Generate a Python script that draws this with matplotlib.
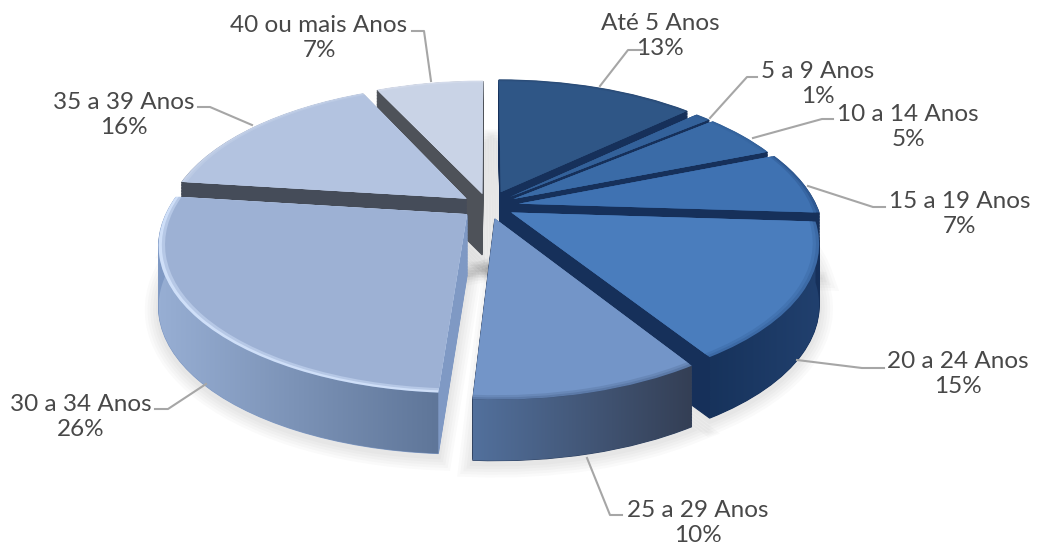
import numpy as np
import matplotlib
matplotlib.use("Agg")
import matplotlib.pyplot as plt
from matplotlib.colors import to_rgb
from matplotlib.patches import Polygon
from matplotlib.transforms import Transform

categories = ["Até 5 Anos", "5 a 9 Anos", "10 a 14 Anos", "15 a 19 Anos", "20 a 24 Anos",
              "25 a 29 Anos", "30 a 34 Anos", "35 a 39 Anos", "40 ou mais Anos"]
values = [13, 1, 5, 7, 15, 10, 26, 16, 7]

top_colors = ["#2f5686", "#33619a", "#3a6ba7", "#3f72b2", "#4a7dbd",
              "#7395c8", "#9db1d4", "#b3c3e0", "#c9d3e6"]
rim_colors = ["#2a4c78", "#2f5a90", "#33629c", "#2f5a94", "#3c6aa6",
              "#5c7aa8", "#cfdff8", "#c3d0e8", "#d5dcec"]
cut_colors = ["#16305a", "#16305a", "#16305a", "#16305a", "#16305a",
              "#2f4262", "#7f99c4", "#454c59", "#4e5259"]
# wall gradient, left end and right end, only for the slices seen from the front
wall_left = {4: "#17335c", 5: "#52709c", 6: "#97aed3"}
wall_right = {4: "#21406e", 5: "#343f55", 6: "#5f7699"}

explode = [0.11, 0.10, 0.10, 0.105, 0.09, 0.09, 0.09, 0.09, 0.09]
draw_order = [8, 0, 7, 1, 2, 3, 6, 4, 5]

# projection of the pie plane on to the picture
CX, CY, RX, RY, PERSP = 488, 206, 298, 140, 0.197
DEPTH = 61


class Persp(Transform):
    input_dims = 2
    output_dims = 2

    def __init__(self, drop=0):
        super().__init__()
        self.drop = drop

    def transform_non_affine(self, xy):
        xy = np.asarray(xy, dtype=float)
        s = 1 / (1 + PERSP * xy[:, 1])
        return np.column_stack((CX + RX * xy[:, 0] * s, CY - RY * xy[:, 1] * s + self.drop))


def mix(a, b, t):
    return tuple((1 - t) * np.array(to_rgb(a)) + t * np.array(to_rgb(b)))


fig = plt.figure(figsize=(10.37, 5.44), dpi=100)
ax = fig.add_axes([0, 0, 1, 1])
order = {s: n for n, s in enumerate(draw_order)}


def pie_layer(colors, drop, radius, base, **kw):
    wedges = ax.pie(values, explode=explode, startangle=90, counterclock=False,
                    colors=colors, radius=radius, normalize=True, **kw)[0]
    for i, w in enumerate(wedges):
        w.set_transform(Persp(drop) + ax.transData)
        w.set_zorder(10 + order[i] * 10 + base)
    return wedges


# soft shadow under the slices
for lw in [4, 8, 12, 16, 20]:
    wedges = pie_layer(["#00000000"] * 9, DEPTH + 3, 1.0, -5,
                       wedgeprops=dict(edgecolor=(0, 0, 0, 0.018), linewidth=lw))
    for w in wedges:
        w.set_zorder(1)

# walls: a stack of the same pie, lower layers first
for drop in np.arange(DEPTH, 0, -1.5):
    wedges = pie_layer(cut_colors, drop, 1.0, 1,
                       wedgeprops=dict(linewidth=0.8))
    for w, c in zip(wedges, cut_colors):
        w.set_edgecolor(c)

# outer wall gradient for the front slices
edges = np.cumsum([0] + values) / 100 * 2 * np.pi
for i in wall_left:
    th = np.linspace(edges[i], edges[i + 1], 80)
    mid = (edges[i] + edges[i + 1]) / 2
    u = np.sin(th) + explode[i] * np.sin(mid)
    v = np.cos(th) + explode[i] * np.cos(mid)
    arc = np.column_stack((u, v))
    upper = Persp(0).transform(arc)
    lower = Persp(DEPTH).transform(arc)
    outline = np.vstack((upper, lower[::-1]))
    x0, x1 = outline[:, 0].min(), outline[:, 0].max()
    y0, y1 = outline[:, 1].min(), outline[:, 1].max()
    tx = np.linspace(0, 1, 60)
    row = np.array([mix(wall_left[i], wall_right[i], t) for t in tx])
    grad = np.repeat(row[None, :, :], 2, axis=0)
    im = ax.imshow(grad, extent=[x0, x1, y1, y0], aspect="auto",
                   interpolation="bilinear", zorder=10 + order[i] * 10 + 2)
    im.set_clip_path(Polygon(outline, closed=True, transform=ax.transData))

# top faces with a lighter rim
for radius, t, base in [(1.0, 0.0, 3), (0.99, 0.5, 4), (0.98, 1.0, 5)]:
    cols = [mix(r, c, t) for r, c in zip(rim_colors, top_colors)]
    pie_layer(cols, 0, radius, base, wedgeprops=dict(linewidth=0))

ax.set_xlim(0, 1037)
ax.set_ylim(544, 0)
ax.set_aspect("auto")
ax.axis("off")

label_x = [660, 818, 908, 960, 958, 698, 81, 124, 319]
label_y = [36, 84, 127, 214, 374, 523, 417, 115, 38]
leaders = [[(600, 86), (628, 50), (642, 50)],
           [(710, 118), (747, 77), (757, 77)],
           [(753, 138), (822, 119), (833, 119)],
           [(808, 186), (873, 207), (885, 207)],
           [(797, 360), (862, 368), (884, 368)],
           [(587, 458), (610, 515), (622, 515)],
           [(206, 384), (168, 409), (155, 409)],
           [(252, 125), (210, 107), (198, 107)],
           [(431, 81), (424, 31), (412, 31)]]

for name, val, x, y, pts in zip(categories, values, label_x, label_y, leaders):
    pts = np.array(pts)
    ax.plot(pts[:, 0], pts[:, 1], color="#a6a6a6", lw=1.5, zorder=200)
    ax.text(x, y, f"{name}\n{val}%", ha="center", va="center", fontsize=17.5,
            family="Lato", color="#484848", linespacing=1.2, zorder=201)

fig.savefig("out.png", dpi=100)
